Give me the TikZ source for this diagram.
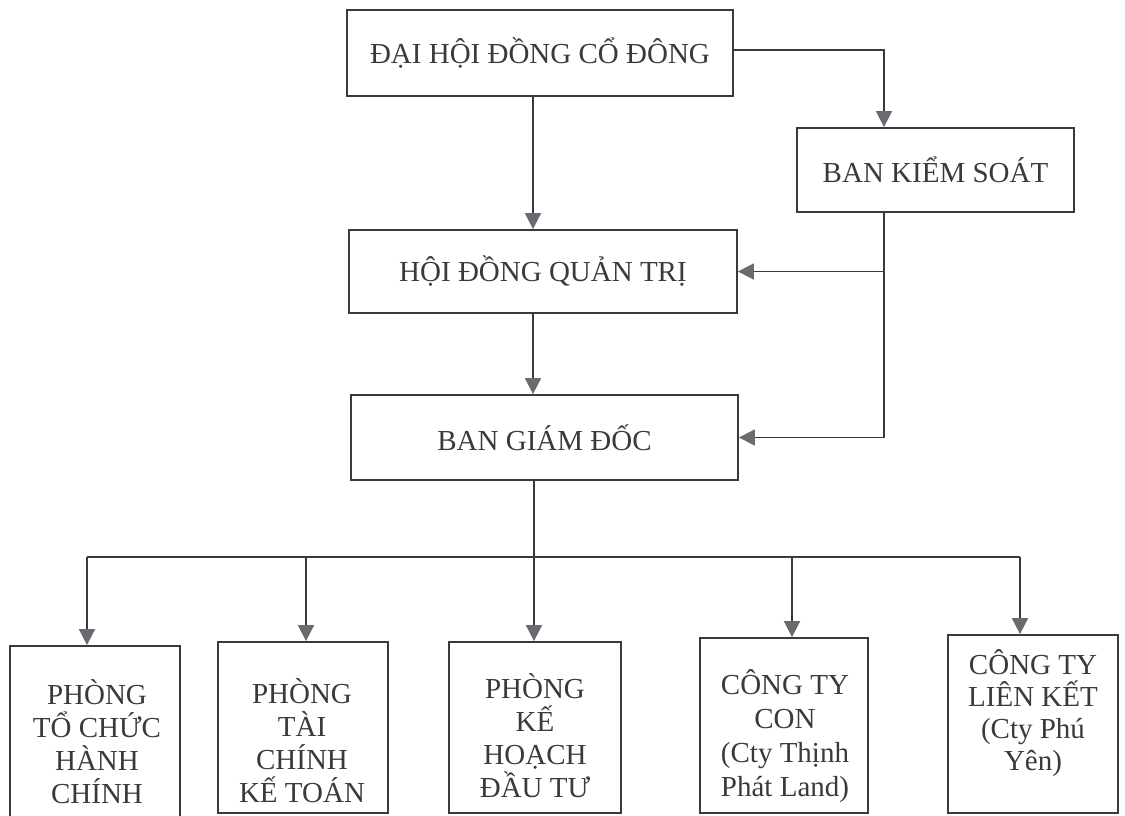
\documentclass[tikz,border=0pt]{standalone}
\usepackage{fontspec}
\setmainfont{Liberation Serif}
\usetikzlibrary{arrows.meta}
\definecolor{ink}{HTML}{3A3A3A}
\definecolor{tipgray}{HTML}{686C70}
\begin{document}
\begin{tikzpicture}[x=1pt,y=-1pt,
  box/.style={draw=ink, line width=1.8pt, text=ink, inner sep=0pt,
    font=\fontsize{29}{33}\selectfont, align=center},
  lbl/.style={text=ink, inner sep=0pt, align=center},
  conn/.style={draw=ink, line width=1.7pt},
  arr/.style={conn, -{Triangle[width=16pt,length=16pt,color=tipgray,fill=tipgray]}}]
\useasboundingbox (0,0) rectangle (1125,816);
\fill[white] (0,0) rectangle (1125,816);
% top boxes
\node[box, minimum width=386pt, minimum height=86pt] (A) at (540,53) {ĐẠI HỘI ĐỒNG CỔ ĐÔNG};
\node[box, minimum width=277pt, minimum height=84pt] (B) at (935.5,170) {BAN KIỂM SOÁT};
\node[box, minimum width=388pt, minimum height=83pt] (H) at (543,271.5) {HỘI ĐỒNG QUẢN TRỊ};
\node[box, minimum width=387pt, minimum height=85pt] (G) at (544.5,437.5) {BAN GIÁM ĐỐC};
% bottom boxes
\node[box, minimum width=170pt, minimum height=174pt] (P1) at (95,733) {};
\node[box, minimum width=170pt, minimum height=171pt] (P2) at (303,727.5) {};
\node[box, minimum width=172pt, minimum height=171pt] (P3) at (535,727.5) {};
\node[box, minimum width=168pt, minimum height=175pt] (P4) at (784,725.5) {};
\node[box, minimum width=170pt, minimum height=178pt] (P5) at (1033,724) {};
\begin{scope}[every node/.style={lbl, font=\fontsize{29}{33}\selectfont}]
\node (T1) at (97,742) {PHÒNG\\TỔ CHỨC\\HÀNH\\CHÍNH};
\node (T2) at (302,741) {PHÒNG\\TÀI\\CHÍNH\\KẾ TOÁN};
\node (T3) at (535,736) {PHÒNG\\KẾ\\HOẠCH\\ĐẦU TƯ};
\node[font=\fontsize{29}{34}\selectfont] (T4) at (785,736) {CÔNG TY\\CON\\(Cty Thịnh\\Phát Land)};
\node[font=\fontsize{29}{32}\selectfont] (T5) at (1033,713) {CÔNG TY\\LIÊN KẾT\\(Cty Phú\\Yên)};
\end{scope}
% column coordinates
\coordinate (c1) at (533,0);
\coordinate (c2) at (884,0);
\coordinate (bus) at (534,557);
\coordinate (b1) at (87,557);
\coordinate (b2) at (306,557);
\coordinate (b3) at (534,557);
\coordinate (b4) at (792,557);
\coordinate (b5) at (1020,557);
% connectors
\draw[arr] (A.south -| c1) -- (H.north -| c1);
\draw[arr] ([yshift=3pt]A.east) -| (B.north -| c2);
\draw[arr] (H.south -| c1) -- (G.north -| c1);
\draw[arr] (B.south -| c2) |- (G.east);
\coordinate (j1) at (H.east -| c2);
\draw[arr] (j1) -- (H.east);
\draw[conn] (G.south -| bus) -- (bus);
\draw[conn] (b1) -- (b5);
\draw[arr] (b1) -- (b1 |- P1.north);
\draw[arr] (b2) -- (b2 |- P2.north);
\draw[arr] (b3) -- (b3 |- P3.north);
\draw[arr] (b4) -- (b4 |- P4.north);
\draw[arr] (b5) -- (b5 |- P5.north);
\end{tikzpicture}
\end{document}
